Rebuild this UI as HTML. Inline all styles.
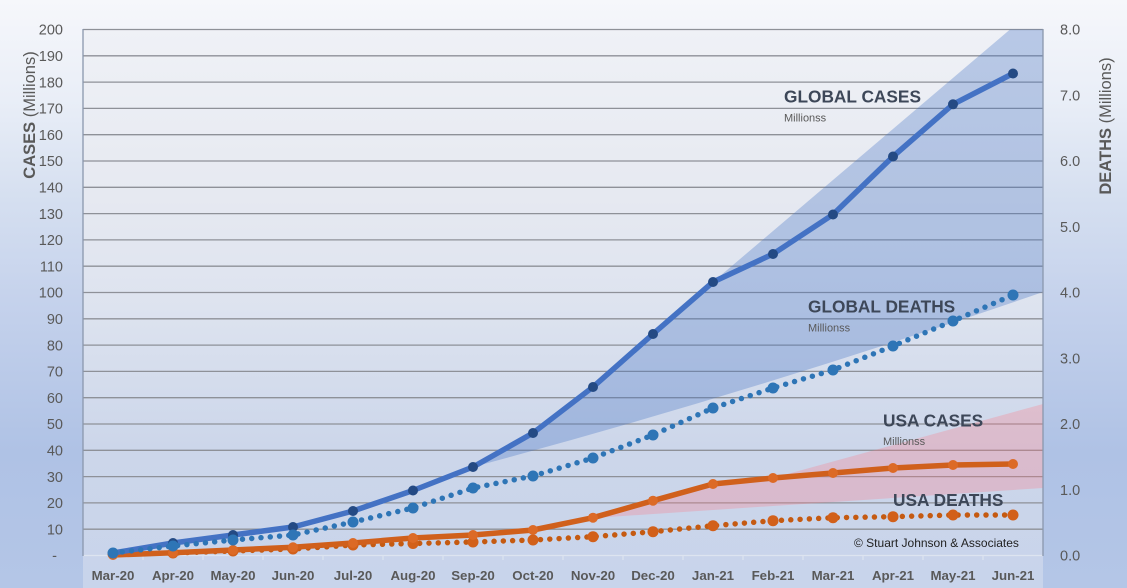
<!DOCTYPE html>
<html>
<head>
<meta charset="utf-8">
<style>
  html,body{margin:0;padding:0;width:1127px;height:588px;overflow:hidden;}
  svg{display:block;font-family:"Liberation Sans",sans-serif;}
</style>
</head>
<body>
<svg width="1127" height="588" viewBox="0 0 1127 588" xmlns="http://www.w3.org/2000/svg">
  <defs>
    <linearGradient id="bg" x1="0" y1="0" x2="0" y2="588" gradientUnits="userSpaceOnUse">
      <stop offset="0" stop-color="#f6f7fb"/>
      <stop offset="0.17" stop-color="#e9eef7"/>
      <stop offset="0.34" stop-color="#d5dff0"/>
      <stop offset="0.51" stop-color="#c5d2ec"/>
      <stop offset="0.77" stop-color="#afc2e5"/>
      <stop offset="1" stop-color="#b4c6e7"/>
    </linearGradient>
    <linearGradient id="pa" x1="0" y1="29" x2="0" y2="588" gradientUnits="userSpaceOnUse">
      <stop offset="0" stop-color="#eff1f6"/>
      <stop offset="0.3" stop-color="#e6e9f1"/>
      <stop offset="0.5" stop-color="#dde3ef"/>
      <stop offset="0.75" stop-color="#ccd6ea"/>
      <stop offset="1" stop-color="#c8d4eb"/>
    </linearGradient>
  </defs>

  <rect x="0" y="0" width="1127" height="588" fill="url(#bg)"/>
  <rect x="83" y="29" width="960" height="559" fill="url(#pa)"/>

  <!-- gridlines -->
  <g stroke="#8e9198" stroke-width="1.3">
    <line x1="83" x2="1043" y1="29.5" y2="29.5"/>
    <line x1="83" x2="1043" y1="55.8" y2="55.8"/>
    <line x1="83" x2="1043" y1="82.1" y2="82.1"/>
    <line x1="83" x2="1043" y1="108.4" y2="108.4"/>
    <line x1="83" x2="1043" y1="134.7" y2="134.7"/>
    <line x1="83" x2="1043" y1="161.0" y2="161.0"/>
    <line x1="83" x2="1043" y1="187.3" y2="187.3"/>
    <line x1="83" x2="1043" y1="213.6" y2="213.6"/>
    <line x1="83" x2="1043" y1="239.9" y2="239.9"/>
    <line x1="83" x2="1043" y1="266.2" y2="266.2"/>
    <line x1="83" x2="1043" y1="292.5" y2="292.5"/>
    <line x1="83" x2="1043" y1="318.8" y2="318.8"/>
    <line x1="83" x2="1043" y1="345.1" y2="345.1"/>
    <line x1="83" x2="1043" y1="371.4" y2="371.4"/>
    <line x1="83" x2="1043" y1="397.7" y2="397.7"/>
    <line x1="83" x2="1043" y1="424.0" y2="424.0"/>
    <line x1="83" x2="1043" y1="450.3" y2="450.3"/>
    <line x1="83" x2="1043" y1="476.6" y2="476.6"/>
    <line x1="83" x2="1043" y1="502.9" y2="502.9"/>
    <line x1="83" x2="1043" y1="529.2" y2="529.2"/>
  </g>

  <!-- bottom axis (faint) -->
  <g stroke="#dde4f0" stroke-width="1.2">
    <line x1="83" x2="1043" y1="555.5" y2="555.5"/>
    <line x1="143" x2="143" y1="555" y2="560"/>
    <line x1="203" x2="203" y1="555" y2="560"/>
    <line x1="263" x2="263" y1="555" y2="560"/>
    <line x1="323" x2="323" y1="555" y2="560"/>
    <line x1="383" x2="383" y1="555" y2="560"/>
    <line x1="443" x2="443" y1="555" y2="560"/>
    <line x1="503" x2="503" y1="555" y2="560"/>
    <line x1="563" x2="563" y1="555" y2="560"/>
    <line x1="623" x2="623" y1="555" y2="560"/>
    <line x1="683" x2="683" y1="555" y2="560"/>
    <line x1="743" x2="743" y1="555" y2="560"/>
    <line x1="803" x2="803" y1="555" y2="560"/>
    <line x1="863" x2="863" y1="555" y2="560"/>
    <line x1="923" x2="923" y1="555" y2="560"/>
    <line x1="983" x2="983" y1="555" y2="560"/>
  </g>

  <!-- cones -->
  <path d="M473,467 L533,433 L593,387 L653,334 L713,282 L1010,29.5 L1043,29.5 L1043,292 Q760,390 473,467 Z" fill="#4472c4" fill-opacity="0.32"/>
  <path d="M593,518 L653,500.7 L713,484 L773,478 L1043,404 L1043,488 Z" fill="#ff7882" fill-opacity="0.28"/>

  <!-- plot borders -->
  <g stroke="#8a97ad" stroke-width="1.3">
    <line x1="83" x2="83" y1="29" y2="556"/>
    <line x1="1043" x2="1043" y1="29" y2="556"/>
  </g>

  <!-- USA deaths (dotted) -->
  <polyline fill="none" stroke="#c55a11" stroke-width="5.5" stroke-linecap="round" stroke-dasharray="0 9.3"
    points="113,554 173,553 233,551 293,549 353,545 413,543.5 473,542 533,540 593,536.7 653,531.7 713,525.7 773,520.7 833,517.7 893,516.7 953,515 1013,515"/>
  <g fill="#d2601a">
    <circle cx="113" cy="554" r="5.5"/><circle cx="173" cy="553" r="5.5"/><circle cx="233" cy="551" r="5.5"/>
    <circle cx="293" cy="549" r="5.5"/><circle cx="353" cy="545" r="5.5"/><circle cx="413" cy="543.5" r="5.5"/>
    <circle cx="473" cy="542" r="5.5"/><circle cx="533" cy="540" r="5.5"/><circle cx="593" cy="536.7" r="5.5"/>
    <circle cx="653" cy="531.7" r="5.5"/><circle cx="713" cy="525.7" r="5.5"/><circle cx="773" cy="520.7" r="5.5"/>
    <circle cx="833" cy="517.7" r="5.5"/><circle cx="893" cy="516.7" r="5.5"/><circle cx="953" cy="515" r="5.5"/>
    <circle cx="1013" cy="515" r="5.5"/>
  </g>

  <!-- USA cases -->
  <polyline fill="none" stroke="#d0601c" stroke-width="5.5" stroke-linejoin="round" stroke-linecap="round"
    points="113,555 173,552.7 233,550 293,547.3 353,543 413,538 473,535 533,530 593,517.7 653,500.7 713,484 773,478 833,473 893,468 953,465 1013,464"/>
  <g fill="#dc6a26">
    <circle cx="113" cy="555" r="5"/><circle cx="173" cy="552.7" r="5"/><circle cx="233" cy="550" r="5"/>
    <circle cx="293" cy="547.3" r="5"/><circle cx="353" cy="543" r="5"/><circle cx="413" cy="538" r="5"/>
    <circle cx="473" cy="535" r="5"/><circle cx="533" cy="530" r="5"/><circle cx="593" cy="517.7" r="5"/>
    <circle cx="653" cy="500.7" r="5"/><circle cx="713" cy="484" r="5"/><circle cx="773" cy="478" r="5"/>
    <circle cx="833" cy="473" r="5"/><circle cx="893" cy="468" r="5"/><circle cx="953" cy="465" r="5"/>
    <circle cx="1013" cy="464" r="5"/>
  </g>

  <!-- Global cases -->
  <polyline fill="none" stroke="#4472c4" stroke-width="5.5" stroke-linejoin="round" stroke-linecap="round"
    points="113,553 173,543 233,535 293,527 353,511 413,490.5 473,467 533,433 593,387 653,334 713,282 773,254 833,214.5 893,156.5 953,104.3 1013,73.5"/>
  <g fill="#244a84">
    <circle cx="113" cy="553" r="5"/><circle cx="173" cy="543" r="5"/><circle cx="233" cy="535" r="5"/>
    <circle cx="293" cy="527" r="5"/><circle cx="353" cy="511" r="5"/><circle cx="413" cy="490.5" r="5"/>
    <circle cx="473" cy="467" r="5"/><circle cx="533" cy="433" r="5"/><circle cx="593" cy="387" r="5"/>
    <circle cx="653" cy="334" r="5"/><circle cx="713" cy="282" r="5"/><circle cx="773" cy="254" r="5"/>
    <circle cx="833" cy="214.5" r="5"/><circle cx="893" cy="156.5" r="5"/><circle cx="953" cy="104.3" r="5"/>
    <circle cx="1013" cy="73.5" r="5"/>
  </g>

  <!-- Global deaths (dotted) -->
  <polyline fill="none" stroke="#2e75b6" stroke-width="5.5" stroke-linecap="round" stroke-dasharray="0 9.3"
    points="113,553 173,546 233,540 293,535 353,522 413,508 473,488 533,476 593,458 653,435 713,408 773,388 833,370 893,346 953,321 1013,295"/>
  <g fill="#2e75b6">
    <circle cx="113" cy="553" r="5.5"/><circle cx="173" cy="546" r="5.5"/><circle cx="233" cy="540" r="5.5"/>
    <circle cx="293" cy="535" r="5.5"/><circle cx="353" cy="522" r="5.5"/><circle cx="413" cy="508" r="5.5"/>
    <circle cx="473" cy="488" r="5.5"/><circle cx="533" cy="476" r="5.5"/><circle cx="593" cy="458" r="5.5"/>
    <circle cx="653" cy="435" r="5.5"/><circle cx="713" cy="408" r="5.5"/><circle cx="773" cy="388" r="5.5"/>
    <circle cx="833" cy="370" r="5.5"/><circle cx="893" cy="346" r="5.5"/><circle cx="953" cy="321" r="5.5"/>
    <circle cx="1013" cy="295" r="5.5"/>
  </g>

  <!-- left axis labels -->
  <g fill="#595959" font-size="14.5" text-anchor="end">
    <text x="63" y="34.7">200</text>
    <text x="63" y="61">190</text>
    <text x="63" y="87.3">180</text>
    <text x="63" y="113.6">170</text>
    <text x="63" y="139.9">160</text>
    <text x="63" y="166.2">150</text>
    <text x="63" y="192.5">140</text>
    <text x="63" y="218.8">130</text>
    <text x="63" y="245.1">120</text>
    <text x="63" y="271.4">110</text>
    <text x="63" y="297.7">100</text>
    <text x="63" y="324">90</text>
    <text x="63" y="350.3">80</text>
    <text x="63" y="376.6">70</text>
    <text x="63" y="402.9">60</text>
    <text x="63" y="429.2">50</text>
    <text x="63" y="455.5">40</text>
    <text x="63" y="481.8">30</text>
    <text x="63" y="508.1">20</text>
    <text x="63" y="534.4">10</text>
    <text x="57" y="560.7">-</text>
  </g>

  <!-- right axis labels -->
  <g fill="#595959" font-size="14.5" text-anchor="start">
    <text x="1060" y="34.7">8.0</text>
    <text x="1060" y="100.5">7.0</text>
    <text x="1060" y="166.2">6.0</text>
    <text x="1060" y="232">5.0</text>
    <text x="1060" y="297.7">4.0</text>
    <text x="1060" y="363.5">3.0</text>
    <text x="1060" y="429.2">2.0</text>
    <text x="1060" y="495">1.0</text>
    <text x="1060" y="560.7">0.0</text>
  </g>

  <!-- category labels -->
  <g fill="#595959" font-size="13.3" font-weight="bold" text-anchor="middle">
    <text x="113" y="580">Mar-20</text>
    <text x="173" y="580">Apr-20</text>
    <text x="233" y="580">May-20</text>
    <text x="293" y="580">Jun-20</text>
    <text x="353" y="580">Jul-20</text>
    <text x="413" y="580">Aug-20</text>
    <text x="473" y="580">Sep-20</text>
    <text x="533" y="580">Oct-20</text>
    <text x="593" y="580">Nov-20</text>
    <text x="653" y="580">Dec-20</text>
    <text x="713" y="580">Jan-21</text>
    <text x="773" y="580">Feb-21</text>
    <text x="833" y="580">Mar-21</text>
    <text x="893" y="580">Apr-21</text>
    <text x="953" y="580">May-21</text>
    <text x="1013" y="580">Jun-21</text>
  </g>

  <!-- axis titles -->
  <text transform="translate(35,115) rotate(-90)" text-anchor="middle" font-size="16.5" fill="#595959"><tspan font-weight="bold">CASES</tspan> (Millions)</text>
  <text transform="translate(1111,126) rotate(-90)" text-anchor="middle" font-size="16.5" fill="#595959"><tspan font-weight="bold">DEATHS</tspan> (Millions)</text>

  <!-- annotations -->
  <g fill="#3d4758" font-weight="bold" font-size="17.3">
    <text x="784" y="102.5">GLOBAL CASES</text>
    <text x="808" y="312.7">GLOBAL DEATHS</text>
    <text x="883" y="426.7">USA CASES</text>
    <text x="893" y="506">USA DEATHS</text>
  </g>
  <g fill="#595959" font-size="11">
    <text x="784" y="121.5">Millionss</text>
    <text x="808" y="331.5">Millionss</text>
    <text x="883" y="445">Millionss</text>
  </g>
  <text x="854" y="547" font-size="12" fill="#222222">© Stuart Johnson &amp; Associates</text>
</svg>
</body>
</html>
